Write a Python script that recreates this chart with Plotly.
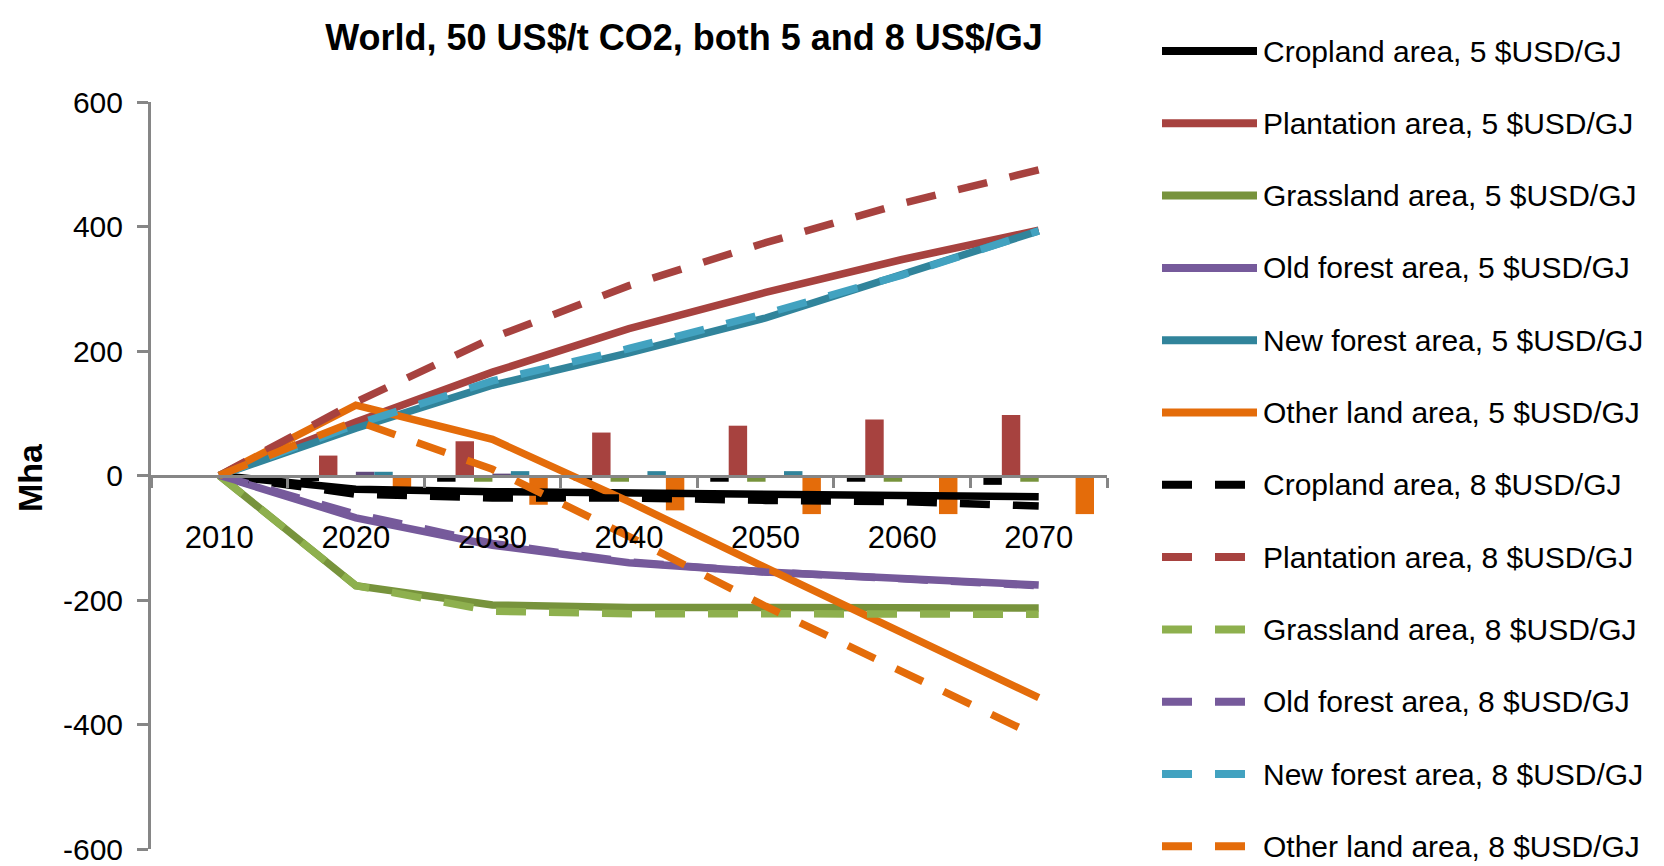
import plotly.graph_objects as go

years = ["2010", "2020", "2030", "2040", "2050", "2060", "2070"]

# Land-use change relative to 2010 (Mha), bioenergy price 5 US$/GJ
cropland_5 = [0, -22, -26, -28, -30, -32, -34]
plantation_5 = [0, 86, 166, 236, 294, 347, 394]
grassland_5 = [0, -177, -208, -212, -212, -212, -213]
old_forest_5 = [0, -68, -112, -140, -155, -167, -176]
new_forest_5 = [0, 76, 145, 197, 253, 322, 393]
other_land_5 = [0, 113, 58, -42, -148, -252, -357]

# Land-use change relative to 2010 (Mha), bioenergy price 8 US$/GJ
cropland_8 = [0, -30, -36, -36, -40, -42, -49]
plantation_8 = [0, 118, 221, 305, 374, 437, 491]
grassland_8 = [0, -177, -218, -222, -222, -222, -223]
old_forest_8 = [0, -62, -109, -139, -155, -167, -177]
new_forest_8 = [0, 82, 152, 204, 260, 322, 393]
other_land_8 = [0, 88, 10, -98, -210, -314, -420]

# Difference 8 minus 5 US$/GJ per decade (Mha)
diff_cropland = [0, -9, -10, -8, -10, -10, -15]
diff_plantation = [0, 32, 55, 69, 80, 90, 97]
diff_grassland = [0, 0, -10, -10, -10, -10, -10]
diff_old_forest = [0, 6, 3, 0, 0, 0, 0]
diff_new_forest = [0, 6, 7, 7, 7, 0, 0]
diff_other_land = [0, -22, -47, -56, -62, -62, -62]

y_ticks = [600, 400, 200, 0, -200, -400, -600]
y_tick_text = ["600", "400", "200", "0", "-200", "-400", "-600"]

FONT = "Liberation Sans, Arial, sans-serif"
AXIS_GREY = "#868686"

C_BLACK = "#000000"
C_RED = "#A7423F"
C_GREEN = "#77933C"
C_GREEN_LIGHT = "#8EB04E"
C_PURPLE = "#765A9B"
C_PURPLE_BAR = "#604A7B"
C_TEAL = "#31849B"
C_TEAL_LIGHT = "#42A2C0"
C_ORANGE = "#E46C0A"

DASH = "30px,23px"
LW = 7.5

fig = go.Figure()

# grouped difference bars
bar_specs = [
    (diff_cropland, C_BLACK),
    (diff_plantation, C_RED),
    (diff_grassland, C_GREEN),
    (diff_old_forest, C_PURPLE_BAR),
    (diff_new_forest, C_TEAL),
    (diff_other_land, C_ORANGE),
]
for vals, col in bar_specs:
    fig.add_trace(go.Bar(x=years, y=vals, marker=dict(color=col, line=dict(width=0)),
                         showlegend=False, hoverinfo="skip"))

# scenario lines
line_specs = [
    ("Cropland area, 5 $USD/GJ", cropland_5, C_BLACK, "solid"),
    ("Plantation area, 5 $USD/GJ", plantation_5, C_RED, "solid"),
    ("Grassland area, 5 $USD/GJ", grassland_5, C_GREEN, "solid"),
    ("Old forest area, 5 $USD/GJ", old_forest_5, C_PURPLE, "solid"),
    ("New forest area, 5 $USD/GJ", new_forest_5, C_TEAL, "solid"),
    ("Other land area, 5 $USD/GJ", other_land_5, C_ORANGE, "solid"),
    ("Cropland area, 8 $USD/GJ", cropland_8, C_BLACK, DASH),
    ("Plantation area, 8 $USD/GJ", plantation_8, C_RED, DASH),
    ("Grassland area, 8 $USD/GJ", grassland_8, C_GREEN_LIGHT, DASH),
    ("Old forest area, 8 $USD/GJ", old_forest_8, C_PURPLE, DASH),
    ("New forest area, 8 $USD/GJ", new_forest_8, C_TEAL_LIGHT, DASH),
    ("Other land area, 8 $USD/GJ", other_land_8, C_ORANGE, DASH),
]
for name, vals, col, dash in line_specs:
    fig.add_trace(go.Scatter(x=years, y=vals, name=name, mode="lines",
                             line=dict(color=col, width=LW, dash=dash),
                             showlegend=False))

# plot-area geometry (pixels)
W, H = 1664, 866
L, R, T, B = 151, 1107, 102, 849


def px_x(px):
    return (px - L) / (R - L)


def px_y(py):
    return (B - py) / (B - T)


# legend drawn at the right of the plot
shapes = []
annotations = []
leg_x0, leg_x1, leg_text_x = 1162, 1257, 1261
leg_y0, leg_dy = 51, 72.3
for i, (name, vals, col, dash) in enumerate(line_specs):
    yy = px_y(leg_y0 + i * leg_dy)
    shapes.append(dict(type="line", xref="paper", yref="paper",
                       x0=px_x(leg_x0), x1=px_x(leg_x1), y0=yy, y1=yy,
                       line=dict(color=col, width=8, dash=dash)))
    annotations.append(dict(text=name, xref="paper", yref="paper",
                            x=px_x(leg_text_x), y=yy, xanchor="left", yanchor="middle",
                            showarrow=False, font=dict(family=FONT, size=30, color="black")))

annotations.append(dict(text="Mha", xref="paper", yref="paper", x=px_x(30), y=px_y(477),
                        xanchor="center", yanchor="middle", textangle=-90, showarrow=False,
                        font=dict(family=FONT, size=34, color="black", weight="bold")))

fig.update_layout(
    width=W, height=H,
    margin=dict(l=L, r=W - R, t=T, b=H - B, pad=0, autoexpand=False),
    paper_bgcolor="white", plot_bgcolor="white",
    barmode="group", bargap=0.19, bargroupgap=0,
    title=dict(text="World, 50 US$/t CO2, both 5 and 8 US$/GJ", x=684 / W, xanchor="center",
               xref="container", y=1 - 37 / H, yanchor="middle", yref="container",
               font=dict(family=FONT, size=36, color="black", weight="bold")),
    xaxis=dict(type="category", range=[-0.5, 6.5], anchor="free", position=0.5,
               automargin=False,
               showline=True, linecolor=AXIS_GREY, linewidth=3,
               ticks="outside", tickson="boundaries", ticklen=10, tickwidth=2.5,
               tickcolor=AXIS_GREY, showgrid=False, zeroline=False,
               ticklabelstandoff=33,
               tickfont=dict(family=FONT, size=31, color="black")),
    yaxis=dict(range=[-600, 600], tickvals=y_ticks, ticktext=y_tick_text,
               automargin=False,
               showline=True, linecolor=AXIS_GREY, linewidth=3,
               ticks="outside", ticklen=11, tickwidth=3, tickcolor=AXIS_GREY,
               showgrid=False, zeroline=False, ticklabelstandoff=8,
               ticklabeloverflow="allow",
               tickfont=dict(family=FONT, size=30, color="black")),
    shapes=shapes,
    annotations=annotations,
    showlegend=False,
)

fig.write_html("out.html")
